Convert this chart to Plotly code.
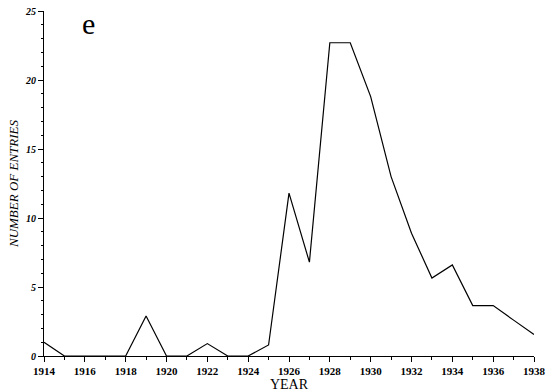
import plotly.graph_objects as go

years = list(range(1914, 1939))
entries = [1.0, 0, 0, 0, 0, 2.9, 0, 0, 0.9, 0, 0, 0.8, 11.8, 6.8, 22.7, 22.7,
           18.8, 13.0, 8.9, 5.65, 6.6, 3.65, 3.65, 2.6, 1.55]
x_ticks = list(range(1914, 1939, 2))
y_ticks = [0, 5, 10, 15, 20, 25]

serif = "Liberation Serif"

fig = go.Figure()
fig.add_trace(go.Scatter(x=years, y=entries, mode="lines",
                         line=dict(color="black", width=1.2),
                         showlegend=False, cliponaxis=False))

fig.update_layout(
    width=546, height=392,
    margin=dict(l=44, r=12, t=11, b=36, autoexpand=False),
    paper_bgcolor="white", plot_bgcolor="white",
    xaxis=dict(range=[1914, 1938], tickvals=x_ticks, ticktext=[str(v) for v in x_ticks],
               automargin=False,
               showgrid=False, zeroline=False, showline=True, linecolor="black", linewidth=1,
               ticks="outside", ticklen=5, tickcolor="black",
               minor=dict(dtick=1, tick0=1914, ticks="outside", ticklen=3, tickcolor="black"),
               tickfont=dict(family=serif, size=11, color="black", weight="bold"),
               title=dict(text="YEAR", font=dict(family=serif, size=14, color="black"), standoff=0)),
    yaxis=dict(range=[0, 25], tickvals=y_ticks, automargin=False,
               showgrid=False, zeroline=False, showline=True, linecolor="black", linewidth=1,
               ticks="outside", ticklen=5, tickcolor="black",
               minor=dict(dtick=1, tick0=0, ticks="outside", ticklen=2, tickcolor="black"),
               tickfont=dict(family=serif, size=10, color="black", weight="bold", style="italic"),
               title=dict(text="NUMBER OF ENTRIES",
                          font=dict(family=serif, size=13, color="black", style="italic"),
                          standoff=3)),
    annotations=[dict(text="e", x=0.09, y=0.965, xref="paper", yref="paper",
                      showarrow=False,
                      font=dict(family="Liberation Serif, Times New Roman, serif", size=30, color="black"),
                      xanchor="center", yanchor="middle")],
)

fig.write_html("out.html", config={"displayModeBar": False},
               post_script="document.body.style.margin='0';document.body.style.overflow='hidden';")
